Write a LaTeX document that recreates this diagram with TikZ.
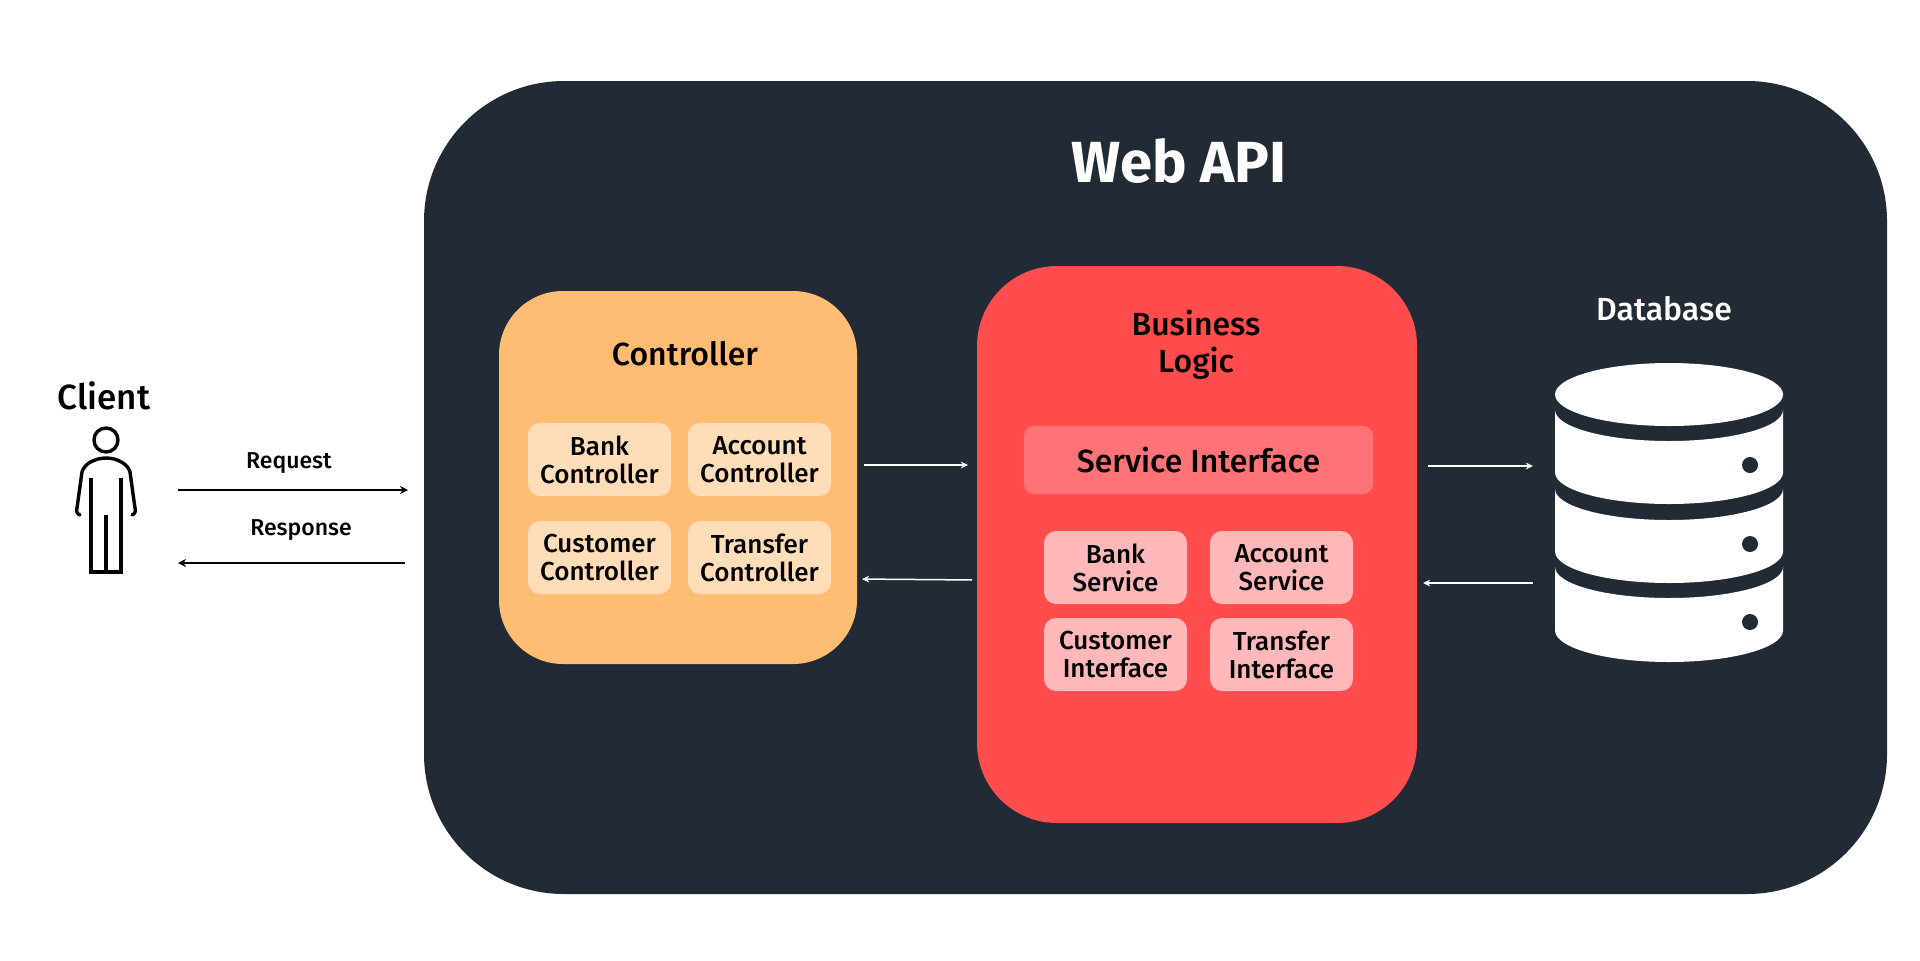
\documentclass[tikz,border=0pt]{standalone}
\usepackage{fontspec}
\setmainfont{Fira Sans}[UprightFont=* Medium,BoldFont=* Bold]
\usetikzlibrary{arrows.meta,calc}
\definecolor{navy}{HTML}{212A35}
\definecolor{orangeb}{HTML}{FFBC72}
\definecolor{orangel}{HTML}{FFDDB8}
\definecolor{redb}{HTML}{FF4D4D}
\definecolor{redm}{HTML}{FF7276}
\definecolor{redl}{HTML}{FFB8BA}
\tikzset{
  panel/.style={inner sep=0pt,outer sep=0pt,align=center,font=\fontsize{13}{14}\selectfont},
  smallc/.style={panel,fill=orangel,rounded corners=6pt,minimum width=71.5pt,minimum height=36.5pt,text=black},
  smallr/.style={panel,fill=redl,rounded corners=6pt,minimum width=71.5pt,minimum height=36.5pt,text=black},
  lab/.style={inner sep=0pt,outer sep=0pt,align=center},
  wire/.style={line width=0.75pt,-{Stealth[length=3.6pt,width=3.4pt]}},
  blackwire/.style={line width=1pt,black,-{Stealth[length=4pt,width=4pt]}},
  person/.style={line width=1.7pt,line cap=round,line join=round,black}
}
\begin{document}
\begin{tikzpicture}[x=0.5pt,y=-0.5pt]
\useasboundingbox (0,0) rectangle (1920,960);
\fill[white] (0,0) rectangle (1920,960);
% main panels
\node[panel,fill=navy,rounded corners=70pt,minimum width=731.5pt,minimum height=406.5pt] (webapi) at (1155.5,487.5) {};
\node[lab,text=white,font=\fontsize{29}{30}\bfseries\selectfont] (title) at (1179,161) {Web API};
\node[panel,fill=orangeb,rounded corners=32pt,minimum width=179pt,minimum height=186.5pt] (ctrl) at (678,477.5) {};
\node[lab,font=\fontsize{16}{17}\selectfont] (ctrllabel) at (685,354) {Controller};
\node[panel,fill=redb,rounded corners=40pt,minimum width=220pt,minimum height=278.5pt] (biz) at (1197,544.5) {};
\node[lab,font=\fontsize{16}{18.5}\selectfont] (bizlabel) at (1196,344.5) {Business\\Logic};
\node[panel,fill=redm,rounded corners=5pt,minimum width=174.5pt,minimum height=34pt,font=\fontsize{16}{17}\selectfont] (svc) at (1198.5,460) {Service Interface};
% controller cards
\node[smallc] (bankc) at (599.5,459.5) {Bank\\Controller};
\node[smallc] (accc) at (759.5,459.5) {Account\\Controller};
\node[smallc] (custc) at (599.5,557.5) {Customer\\Controller};
\node[smallc] (tranc) at (759.5,557.5) {Transfer\\Controller};
% business cards
\node[smallr] (banks) at (1115.5,567.5) {Bank\\Service};
\node[smallr] (accs) at (1281.5,567.5) {Account\\Service};
\node[smallr] (custs) at (1115.5,654.5) {Customer\\Interface};
\node[smallr] (trans) at (1281.5,654.5) {Transfer\\Interface};
% database
\node[lab,text=white,font=\fontsize{16}{17}\selectfont] (dblabel) at (1664,309) {Database};
\node[inner sep=0pt,outer sep=0pt,minimum width=114pt,minimum height=149.5pt] (db) at (1669,512.5) {};
\fill[white] (1669,394.5) ellipse [x radius=114,y radius=31.5];
\fill[white] (1555,410) arc [start angle=180,end angle=0,x radius=114,y radius=31] -- (1783,472.5) arc [start angle=0,end angle=180,x radius=114,y radius=31.5] -- cycle;
\fill[white] (1555,489) arc [start angle=180,end angle=0,x radius=114,y radius=31] -- (1783,551.5) arc [start angle=0,end angle=180,x radius=114,y radius=31.5] -- cycle;
\fill[white] (1555,567) arc [start angle=180,end angle=0,x radius=114,y radius=31] -- (1783,630.5) arc [start angle=0,end angle=180,x radius=114,y radius=31.5] -- cycle;
\fill[navy] (1750,465) circle [radius=8];
\fill[navy] (1750,544) circle [radius=8];
\fill[navy] (1750,622) circle [radius=8];
% client
\node[lab,font=\fontsize{17.5}{19}\selectfont] (clientlabel) at (104,396) {Client};
\node[inner sep=0pt,outer sep=0pt,minimum width=28pt,minimum height=72pt] (client) at (106,500) {};
\draw[person] (106,440) circle [radius=12];
\draw[person] (80,515) .. controls (77,514) and (76,511) .. (77,508) -- (82,472) .. controls (84,464) and (95,458) .. (106,458) .. controls (117,458) and (128,464) .. (130,472) -- (135,508) .. controls (136,511) and (135,514) .. (132,515);
\draw[person,line cap=butt,line join=miter] (91,478) -- (91,572) -- (121,572) -- (121,478);
\draw[person,line cap=butt] (106,515) -- (106,572);
\node[lab,font=\fontsize{11.5}{12}\selectfont] (reqlabel) at (289,463) {Request};
\node[lab,font=\fontsize{11.5}{12}\selectfont] (resplabel) at (301,530) {Response};
% connectors
\draw[blackwire,shorten <=22pt,shorten >=8pt] (client.east |- 0,490) -- (webapi.west |- 0,490);
\draw[blackwire,shorten >=22pt,shorten <=9.5pt] (webapi.west |- 0,563) -- (client.east |- 0,563);
\draw[wire,white,shorten <=3.5pt,shorten >=4.5pt] (ctrl.east |- 0,465) -- (biz.west |- 0,465);
\draw[wire,white,shorten <=2.5pt,shorten >=2.5pt] (biz.west |- 0,580) -- (ctrl.east |- 0,579);
\draw[wire,white,shorten <=5.5pt,shorten >=11pt] (biz.east |- 0,466) -- (db.west |- 0,466);
\draw[wire,white,shorten <=11pt,shorten >=3pt] (db.west |- 0,583) -- (biz.east |- 0,583);
\end{tikzpicture}
\end{document}
